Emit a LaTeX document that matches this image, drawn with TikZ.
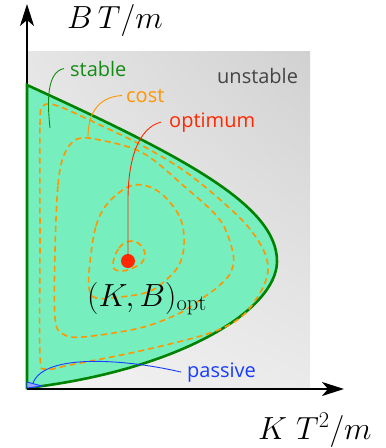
\RequirePackage{fix-cm}
\documentclass[tikz,border=0pt]{standalone}
\usepackage{fontspec}
\setsansfont{Open Sans}
\usepackage{tikz}
\usetikzlibrary{arrows.meta, shadings}
\definecolor{stablegreen}{RGB}{0,130,0}
\definecolor{labelgreen}{RGB}{20,140,20}
\definecolor{regionmint}{RGB}{118,238,190}
\definecolor{costorange}{RGB}{255,150,0}
\definecolor{optred}{RGB}{255,40,0}
\definecolor{passblue}{RGB}{25,60,255}
\definecolor{unstgray}{RGB}{68,68,68}
\tikzset{
  axisline/.style={line width=2pt, black, -{Stealth[length=22pt, width=14pt, inset=6pt]}},
  border/.style={line width=2.6pt, draw=stablegreen},
  contour/.style={costorange, line width=1.6pt, dash pattern=on 6pt off 4pt},
  tag/.style={font=\sffamily\fontsize{20}{24}\selectfont, anchor=base west, inner sep=0pt},
  mathtag/.style={font=\fontsize{32}{38}\selectfont, anchor=base west, inner sep=0pt},
  pinline/.style={line width=0.9pt},
}

\begin{document}
\begin{tikzpicture}[x=1pt, y=-1pt]
  \useasboundingbox (0,0) rectangle (386,448);

  % unstable background
  \shade[shading=bilinear interpolation, upper left=gray!20, upper right=gray!36,
    lower left=gray!10, lower right=gray!16] (27,51) rectangle (310,389);

  % stable region
  \fill[regionmint] (27,85) .. controls (180,155) and (278,205) .. (277,262)
    .. controls (276,310) and (180,370) .. (27,388) -- cycle;

  \draw[axisline] (27,389) -- (27,4);

  \draw[border] (27,85) .. controls (180,155) and (278,205) .. (277,262)
    .. controls (276,310) and (180,370) .. (27,388) -- cycle;

  % passive corner
  \filldraw[passblue, fill=passblue!45, line width=0.9pt] (27,382) -- (42,386) -- (27,388) -- cycle;

  \draw[axisline] (27,389) -- (344,389);

  % cost contours
  \draw[contour] plot[smooth cycle, tension=0.55] coordinates {
    (40,240) (40,125) (43,106) (58,106) (100,125) (143,146) (190,175) (240,218)
    (262,247) (268,270) (260,293) (240,318) (207,334) (140,351) (70,365) (46,369) (40,355)};
  \draw[contour] plot[smooth cycle, tension=0.55] coordinates {
    (55,250) (58,185) (64,155) (77,139) (100,140) (143,153) (185,187) (220,220)
    (233,253) (231,272) (220,285) (207,295) (180,313) (140,328) (83,337) (63,334) (55,318)};
  \draw[contour] plot[smooth cycle, tension=0.6] coordinates {
    (90,262) (96,226) (108,203) (130,186) (150,187) (167,199) (181,220) (184,245)
    (179,265) (166,280) (148,292) (120,297) (96,298) (89,288)};
  \draw[contour] plot[smooth cycle, tension=0.7] coordinates {
    (113,266) (119,248) (132,241) (143,248) (144,259) (137,266) (122,271)};

  \node[circle, fill=optred, minimum size=14pt, inner sep=0pt] (optdot) at (128,261) {};

  % labels
  \node[mathtag] (ylabel) at (67,28) {$B\,T/m$};
  \node[mathtag] (xlabel) at (258,439) {$K\;T^2/m$};
  \node[mathtag] (optlabel) at (87,306) {$(K,B)_{\mathrm{opt}}$};

  \node[tag, unstgray] (unstable) at (217,83) {unstable};
  \node[tag, labelgreen] (stable) at (70,76) {stable};
  \node[tag, costorange] (cost) at (126,102) {cost};
  \node[tag, optred] (optimum) at (169,127) {optimum};
  \node[tag, passblue] (passive) at (187,377) {passive};

  \coordinate (stablept) at (50,128);
  \coordinate (costpt) at (88,137);
  \coordinate (passpt) at (33,383);

  \draw[pinline, labelgreen] ([xshift=-6pt]stable.west) .. controls (47,72) and (47,100) .. (stablept);
  \draw[pinline, costorange] ([xshift=-4pt]cost.west) .. controls (97,97) and (88,115) .. (costpt);
  \draw[pinline, optred] ([xshift=-8pt]optimum.west) .. controls (138,128) and (128,160) .. (128,200) -- (optdot);
  \draw[pinline, passblue] ([xshift=-6pt]passive.west) .. controls (130,360) and (45,352) .. (passpt);
\end{tikzpicture}
\end{document}
